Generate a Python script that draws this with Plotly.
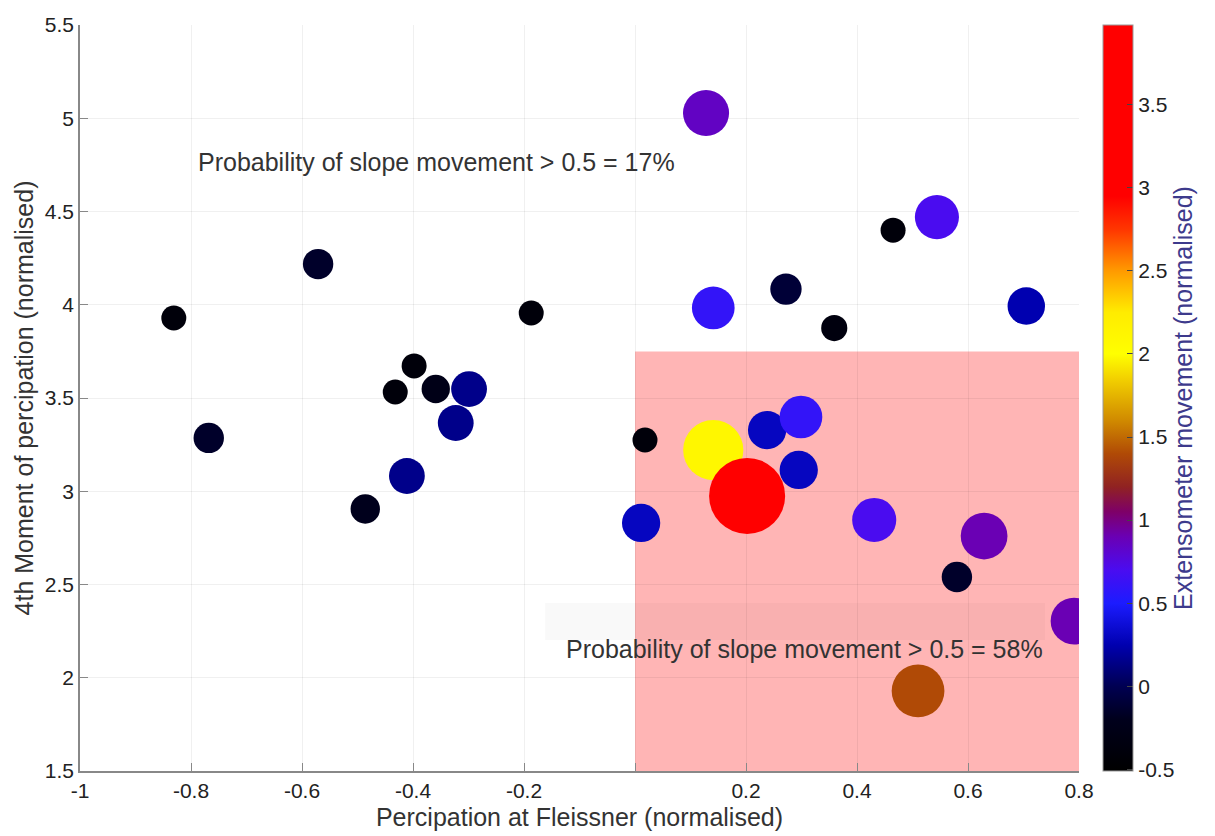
import numpy as np
import plotly.graph_objects as go

# Normalised precipitation at Fleissner (x), 4th moment of precipitation (y)
precip_fleissner = [0.128, 0.544, 0.465, -0.571, -0.831, -0.187, 0.141, 0.272, 0.359, 0.705,
                    -0.398, -0.432, -0.359, -0.299, -0.323, -0.768, -0.411, -0.486, 0.018, 0.141,
                    0.202, 0.238, 0.299, 0.295, 0.011, 0.431, 0.629, 0.580, 0.791, 0.510]
moment4 = [5.028, 4.47, 4.40, 4.218, 3.929, 3.956, 3.983, 4.084, 3.875, 3.993,
           3.672, 3.532, 3.548, 3.548, 3.366, 3.286, 3.082, 2.905, 3.275, 3.221,
           2.975, 3.328, 3.398, 3.114, 2.830, 2.846, 2.760, 2.540, 2.304, 1.929]
# Normalised extensometer movement (colour and marker area)
extensometer = [0.85, 0.7, -0.4, -0.15, -0.4, -0.4, 0.6, -0.1, -0.35, 0.25,
                -0.4, -0.4, -0.25, 0.15, 0.15, -0.15, 0.15, -0.2, -0.4, 2.1,
                3.9, 0.3, 0.6, 0.3, 0.3, 0.7, 0.9, -0.15, 0.9, 1.4]

x_ticks = [-1, -0.8, -0.6, -0.4, -0.2, 0, 0.2, 0.4, 0.6, 0.8]
x_ticklabels = ["-1", "-0.8", "-0.6", "-0.4", "-0.2", "", "0.2", "0.4", "0.6", "0.8"]
y_ticks = [1.5, 2, 2.5, 3, 3.5, 4, 4.5, 5, 5.5]
y_ticklabels = ["1.5", "2", "2.5", "3", "3.5", "4", "4.5", "5", "5.5"]
cb_ticks = [-0.5, 0, 0.5, 1, 1.5, 2, 2.5, 3, 3.5]
cb_ticklabels = ["-0.5", "0", "0.5", "1", "1.5", "2", "2.5", "3", "3.5"]

CMIN, CMAX = -0.51, 3.98


def stop(v):
    return (v - CMIN) / (CMAX - CMIN)


colorscale = [
    [0.0, "#000000"],
    [stop(-0.2), "#00001c"],
    [stop(0.0), "#000052"],
    [stop(0.25), "#0000b0"],
    [stop(0.5), "#1c1cff"],
    [stop(0.7), "#4a0cf0"],
    [stop(0.9), "#6a00b4"],
    [stop(1.05), "#7e0068"],
    [stop(1.2), "#902222"],
    [stop(1.4), "#b04a06"],
    [stop(1.6), "#d08a00"],
    [stop(1.85), "#f2d000"],
    [stop(2.0), "#ffff00"],
    [stop(2.25), "#ffec00"],
    [stop(2.5), "#ff9a00"],
    [stop(2.75), "#ff3600"],
    [stop(2.95), "#ff0000"],
    [1.0, "#ff0000"],
]

# marker area grows linearly with the extensometer value
ext = np.array(extensometer)
marker_diam = 2 * np.sqrt(276 + 300 * ext)

FONT = "Liberation Sans, Arial, sans-serif"

fig = go.Figure()

fig.add_trace(go.Scatter(
    x=precip_fleissner, y=moment4, mode="markers",
    marker=dict(
        size=marker_diam, sizemode="diameter",
        color=extensometer, colorscale=colorscale, cmin=CMIN, cmax=CMAX,
        opacity=1, line=dict(width=0),
        colorbar=dict(
            x=1.024, xanchor="left", xref="paper",
            y=0, yanchor="bottom", len=1, lenmode="fraction", ypad=0, xpad=0,
            thickness=30, outlinewidth=1, outlinecolor="#999",
            tickvals=cb_ticks, ticktext=cb_ticklabels,
            ticks="inside", ticklen=6, tickcolor="#444",
            tickfont=dict(family=FONT, size=21, color="#222"),
            title=dict(text="Extensometer movement (normalised)", side="right",
                       font=dict(family=FONT, size=25, color="#3d3a8c")),
        ),
    ),
    showlegend=False, hoverinfo="x+y",
))

# shaded zone of higher slope-movement probability
fig.add_shape(type="rect", xref="x", yref="y", x0=0, x1=0.8, y0=1.5, y1=3.75,
              fillcolor="#ffb5b5", line=dict(width=0), layer="below")
# faint label backdrop
fig.add_shape(type="rect", xref="x", yref="y", x0=-0.162, x1=0.739, y0=2.202, y1=2.401,
              fillcolor="rgba(0,0,0,0.025)", line=dict(width=0), layer="below")

fig.add_annotation(x=-0.357, y=4.765, xref="x", yref="y", showarrow=False,
                   text="Probability of slope movement > 0.5 = 17%",
                   font=dict(family=FONT, size=25, color="#333"))
fig.add_annotation(x=0.305, y=2.154, xref="x", yref="y", showarrow=False,
                   text="Probability of slope movement > 0.5 = 58%",
                   font=dict(family=FONT, size=25, color="#333"))

fig.update_layout(
    width=1215, height=836,
    margin=dict(l=80, r=136, t=25, b=65, autoexpand=False),
    paper_bgcolor="white", plot_bgcolor="white",
    font=dict(family=FONT, color="#222"),
    xaxis=dict(
        range=[-1, 0.8], tickvals=x_ticks, ticktext=x_ticklabels,
        showgrid=True, gridcolor="rgba(0,0,0,0.06)", gridwidth=1,
        zeroline=False, showline=True, linecolor="#888", linewidth=1.5,
        ticks="inside", ticklen=8, tickcolor="#888",
        tickfont=dict(family=FONT, size=21, color="#222"),
        title=dict(text="Percipation at Fleissner (normalised)", standoff=8,
                   font=dict(family=FONT, size=25, color="#333")),
    ),
    yaxis=dict(
        range=[1.5, 5.5], tickvals=y_ticks, ticktext=y_ticklabels,
        showgrid=True, gridcolor="rgba(0,0,0,0.06)", gridwidth=1,
        zeroline=False, showline=True, linecolor="#888", linewidth=1.5,
        ticks="inside", ticklen=8, tickcolor="#888",
        tickfont=dict(family=FONT, size=21, color="#222"),
        title=dict(text="4th Moment of percipation (normalised)", standoff=4,
                   font=dict(family=FONT, size=25, color="#333")),
    ),
)

fig.write_html("out.html")
